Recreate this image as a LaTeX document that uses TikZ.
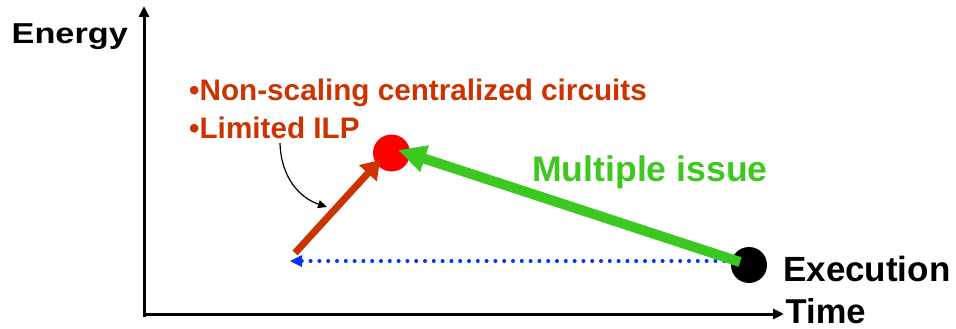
\documentclass[tikz,border=0pt]{standalone}
\usepackage{fontspec}
\setmainfont{Liberation Sans}
\usetikzlibrary{arrows.meta,calc}
\definecolor{ograng}{HTML}{CC3300}
\definecolor{grn}{HTML}{3CC81E}
\definecolor{blu}{HTML}{0033FF}
\definecolor{rd}{HTML}{FF0000}
\tikzset{
  lbl/.style={inner sep=0pt, anchor=base west, font=\bfseries},
  axis/.style={line width=3pt, -{Triangle[length=11pt,width=10pt]}},
  dot/.style={circle, inner sep=0pt, minimum size=#1},
}
\begin{document}
\begin{tikzpicture}[x=1pt,y=-1pt]
\useasboundingbox (0,0) rectangle (956,329);
% axes
\coordinate (o) at (144,314);
\coordinate (ytip) at (144,6);
\coordinate (xtip) at (784,314);
\draw[axis] (144,317) -- (ytip);
\draw[axis] (142.5,314) -- (xtip);
% labels
\node[lbl, font=\bfseries\fontsize{28.8}{30}\selectfont] (energy) at (11.5,43.3) {\scalebox{1.19}[1]{Energy}};
\node[lbl, font=\bfseries\fontsize{35}{36}\selectfont] (exec) at (783,281) {Execution};
\node[lbl, font=\bfseries\fontsize{34.5}{36}\selectfont] (time) at (785.5,323) {Time};
\node[lbl, text=ograng, font=\bfseries\fontsize{29.7}{30}\selectfont] (t1) at (189,100) {•Non-scaling centralized circuits};
\node[lbl, text=ograng, font=\bfseries\fontsize{29.7}{30}\selectfont] (t2) at (189,138.3) {•Limited ILP};
\node[lbl, text=grn, font=\bfseries\fontsize{35.6}{36}\selectfont] (mi) at (532,181.7) {Multiple issue};
% points
\node[dot=37pt, fill=rd] (red) at (391.5,153) {};
\node[dot=36pt, fill=black] (blk) at (749,265) {};
\coordinate (gstart) at (740,262);
\coordinate (gtip) at (398,150);
\coordinate (ostart) at (295,253);
\coordinate (otip) at (380,160);
\coordinate (bstart) at (733,261);
\coordinate (btip) at (290,261);
\coordinate (cstart) at (280,143);
\coordinate (ctip) at (327,207);
% blue dotted arrow
\draw[blu, line width=4pt, line cap=round, dash pattern=on 0pt off 8.8pt] (bstart) -- ($(btip)+(10,0)$);
\fill[blu] (btip) -- ++(12,-6) -- ++(0,12) -- cycle;
% orange arrow
\draw[ograng, line width=7pt, -{Triangle[length=18pt,width=23pt]}] (ostart) -- (otip);
% green arrow
\draw[grn, line width=10pt, -{Triangle[length=28pt,width=26pt]}] (gstart) -- (gtip);
% black curved arrow
\draw[line width=1.2pt, -{Triangle[length=9pt,width=8pt]}] (cstart) .. controls (281,178) and (300,198) .. (ctip);
\end{tikzpicture}
\end{document}
